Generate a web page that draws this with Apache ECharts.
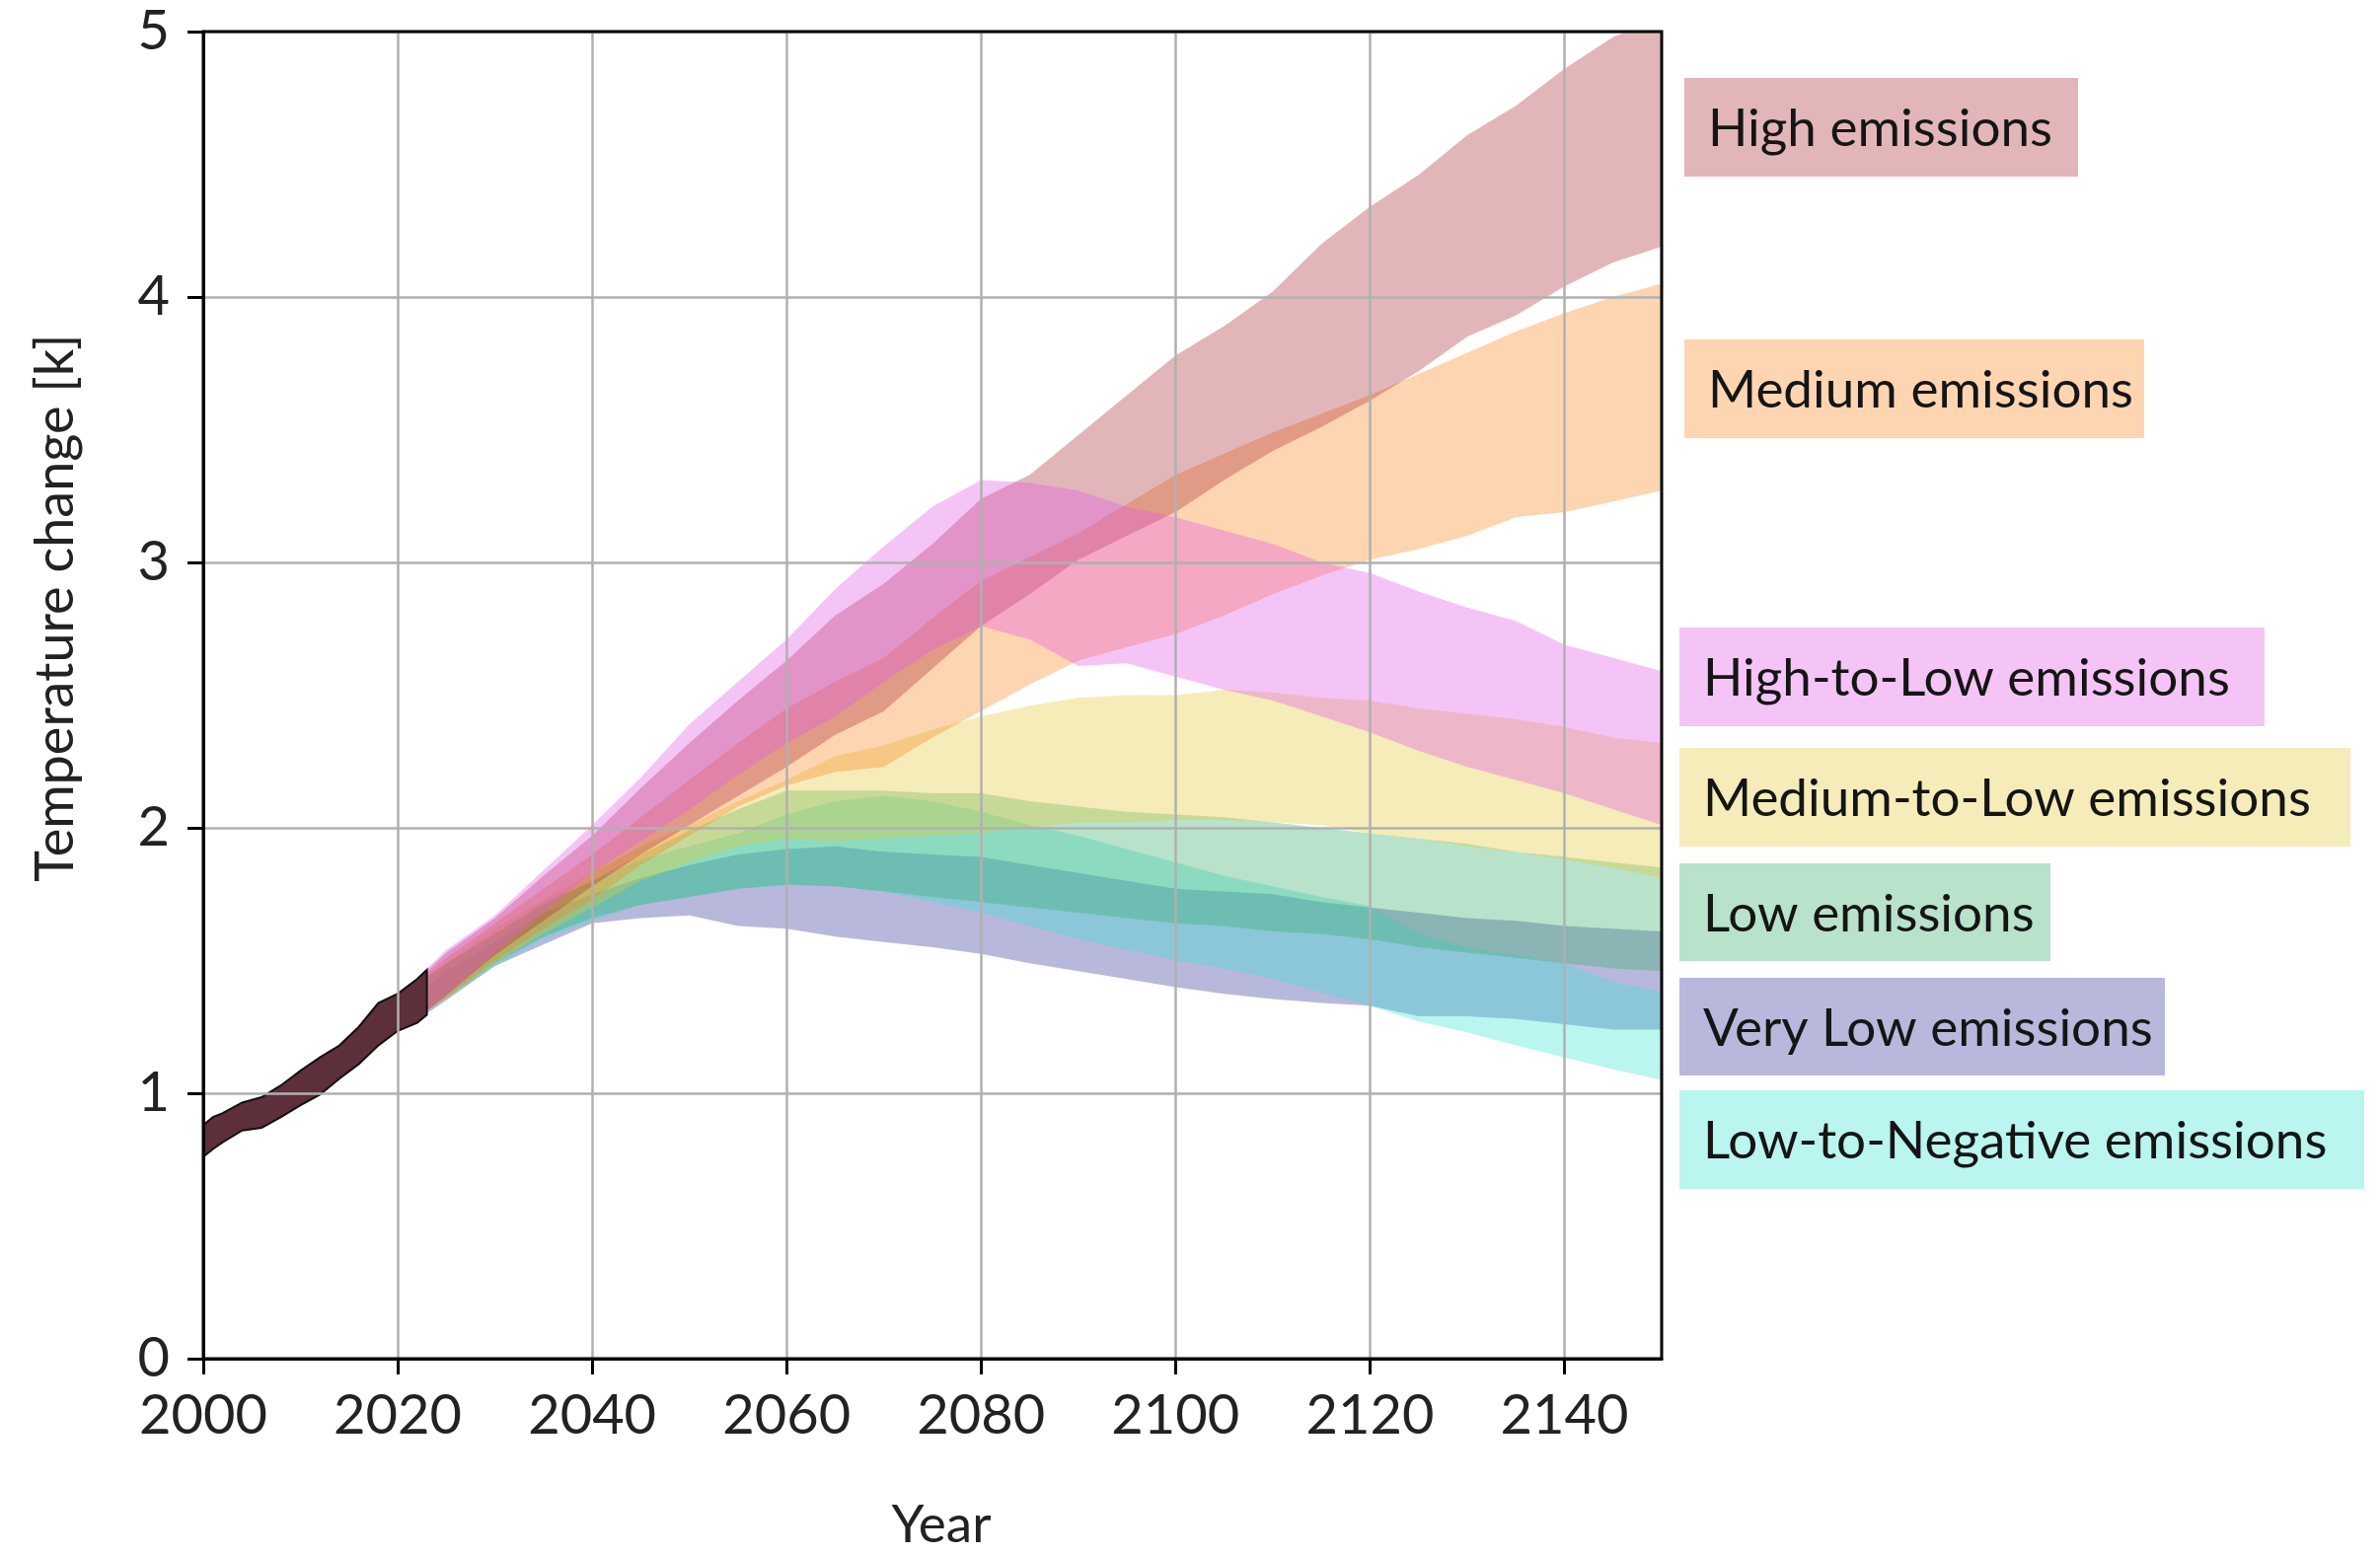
<!DOCTYPE html>
<html><head><meta charset="utf-8">
<script src="https://cdn.jsdelivr.net/npm/echarts@6/dist/echarts.min.js"></script>
<style>html,body{margin:0;padding:0;background:#fff}#c{width:2412px;height:1577px}</style>
</head><body><div id="c"></div>
<script>
// ---------- data ----------
const histYears = [2000, 2001, 2002, 2004, 2006, 2008, 2010, 2012, 2014, 2016, 2018, 2020, 2022, 2023];
const histUpper = [0.88, 0.91, 0.925, 0.965, 0.985, 1.03, 1.085, 1.135, 1.18, 1.25, 1.34, 1.375, 1.43, 1.465];
const histLower = [0.76, 0.79, 0.815, 0.86, 0.87, 0.91, 0.955, 0.995, 1.055, 1.11, 1.18, 1.235, 1.265, 1.295];

const years = [2023, 2025, 2030, 2035, 2040, 2045, 2050, 2055, 2060, 2065, 2070, 2075, 2080, 2085, 2090, 2095, 2100, 2105, 2110, 2115, 2120, 2125, 2130, 2135, 2140, 2145, 2150];

const highUpper = [1.46, 1.53, 1.66, 1.82, 1.97, 2.15, 2.32, 2.48, 2.63, 2.80, 2.92, 3.07, 3.24, 3.33, 3.48, 3.63, 3.78, 3.89, 4.02, 4.20, 4.34, 4.46, 4.61, 4.72, 4.86, 4.98, 5.05];
const highLower = [1.31, 1.37, 1.52, 1.65, 1.78, 1.90, 2.01, 2.12, 2.23, 2.35, 2.44, 2.60, 2.76, 2.88, 3.01, 3.10, 3.19, 3.31, 3.42, 3.51, 3.61, 3.72, 3.85, 3.93, 4.04, 4.13, 4.19];

const medUpper = [1.45, 1.51, 1.64, 1.77, 1.90, 2.04, 2.18, 2.32, 2.45, 2.55, 2.64, 2.79, 2.93, 3.02, 3.11, 3.22, 3.33, 3.41, 3.49, 3.56, 3.63, 3.71, 3.79, 3.87, 3.94, 4.00, 4.05];
const medLower = [1.31, 1.36, 1.50, 1.62, 1.73, 1.86, 1.97, 2.08, 2.16, 2.21, 2.23, 2.34, 2.44, 2.54, 2.63, 2.68, 2.73, 2.80, 2.88, 2.95, 3.01, 3.05, 3.10, 3.17, 3.19, 3.23, 3.27];

const h2lUpper = [1.47, 1.54, 1.67, 1.84, 2.01, 2.19, 2.39, 2.55, 2.71, 2.90, 3.06, 3.21, 3.31, 3.30, 3.27, 3.21, 3.17, 3.12, 3.07, 3.00, 2.96, 2.89, 2.83, 2.78, 2.69, 2.64, 2.59];
const h2lLower = [1.31, 1.37, 1.53, 1.68, 1.83, 1.95, 2.07, 2.20, 2.32, 2.42, 2.55, 2.67, 2.76, 2.71, 2.61, 2.62, 2.57, 2.52, 2.48, 2.42, 2.36, 2.29, 2.23, 2.18, 2.13, 2.07, 2.01];

const m2lUpper = [1.44, 1.49, 1.62, 1.73, 1.83, 1.93, 2.01, 2.10, 2.18, 2.27, 2.31, 2.37, 2.42, 2.46, 2.49, 2.50, 2.50, 2.52, 2.51, 2.49, 2.48, 2.45, 2.43, 2.41, 2.38, 2.34, 2.32];
const m2lLower = [1.31, 1.36, 1.49, 1.60, 1.70, 1.80, 1.87, 1.93, 1.96, 1.95, 1.96, 1.97, 1.98, 2.00, 2.02, 2.02, 2.03, 2.03, 2.02, 2.01, 1.98, 1.96, 1.93, 1.91, 1.88, 1.85, 1.81];

const lowUpper = [1.44, 1.49, 1.60, 1.71, 1.80, 1.90, 1.99, 2.07, 2.14, 2.14, 2.14, 2.13, 2.13, 2.10, 2.08, 2.06, 2.05, 2.04, 2.02, 2.00, 1.98, 1.96, 1.94, 1.91, 1.89, 1.87, 1.85];
const lowLower = [1.31, 1.36, 1.49, 1.59, 1.66, 1.71, 1.74, 1.77, 1.785, 1.78, 1.76, 1.74, 1.72, 1.70, 1.68, 1.66, 1.64, 1.63, 1.61, 1.60, 1.58, 1.55, 1.53, 1.51, 1.49, 1.47, 1.46];

const vlUpper = [1.40, 1.46, 1.57, 1.68, 1.75, 1.81, 1.86, 1.90, 1.92, 1.93, 1.91, 1.90, 1.89, 1.86, 1.83, 1.80, 1.77, 1.76, 1.75, 1.72, 1.70, 1.68, 1.66, 1.65, 1.63, 1.62, 1.61];
const vlLower = [1.30, 1.35, 1.48, 1.56, 1.64, 1.66, 1.67, 1.63, 1.62, 1.59, 1.57, 1.55, 1.525, 1.49, 1.46, 1.43, 1.40, 1.375, 1.355, 1.34, 1.33, 1.29, 1.29, 1.28, 1.26, 1.24, 1.24];

const l2nUpper = [1.43, 1.49, 1.60, 1.72, 1.80, 1.88, 1.93, 1.98, 2.05, 2.10, 2.12, 2.10, 2.06, 2.01, 1.97, 1.92, 1.87, 1.82, 1.78, 1.74, 1.705, 1.60, 1.55, 1.52, 1.49, 1.42, 1.38];
const l2nLower = [1.31, 1.36, 1.48, 1.58, 1.65, 1.71, 1.74, 1.77, 1.785, 1.78, 1.76, 1.72, 1.68, 1.63, 1.58, 1.54, 1.50, 1.47, 1.43, 1.38, 1.33, 1.27, 1.23, 1.18, 1.135, 1.09, 1.05];

const xTickValues = [2000, 2020, 2040, 2060, 2080, 2100, 2120, 2140];
const xLabelMax = 2140; // last labelled year
const legendNames = ['High emissions', 'Medium emissions', 'High-to-Low emissions', 'Medium-to-Low emissions', 'Low emissions', 'Very Low emissions', 'Low-to-Negative emissions'];

// ---------- styling ----------
const FONT = 'Lato';
const ALPHA = 0.35;
const C = {
  high: [172, 46, 55], med: [249, 135, 32], h2l: [226, 86, 232], m2l: [226, 201, 55],
  low: [55, 172, 106], vl: [52, 52, 155], l2n: [58, 226, 212]
};
const rgba = (c, a) => `rgba(${c[0]},${c[1]},${c[2]},${a})`;

// draw order (bottom -> top)
const bands = [
  { name: legendNames[5], lo: vlLower, hi: vlUpper, c: C.vl },
  { name: legendNames[6], lo: l2nLower, hi: l2nUpper, c: C.l2n },
  { name: legendNames[4], lo: lowLower, hi: lowUpper, c: C.low },
  { name: legendNames[3], lo: m2lLower, hi: m2lUpper, c: C.m2l },
  { name: legendNames[1], lo: medLower, hi: medUpper, c: C.med },
  { name: legendNames[0], lo: highLower, hi: highUpper, c: C.high },
  { name: legendNames[2], lo: h2lLower, hi: h2lUpper, c: C.h2l }
];

function bandSeries(name, xs, lo, hi, fill, stroke, lineWidth) {
  return {
    type: 'custom', name, coordinateSystem: 'cartesian2d', clip: true, z: 2,
    data: xs.map((x, i) => [x, lo[i], hi[i]]),
    encode: { x: 0, y: [1, 2] },
    silent: true,
    renderItem(params, api) {
      if (params.dataIndex !== 0) return null;
      const pts = [];
      for (let i = 0; i < xs.length; i++) pts.push(api.coord([xs[i], hi[i]]));
      for (let i = xs.length - 1; i >= 0; i--) pts.push(api.coord([xs[i], lo[i]]));
      return { type: 'polygon', shape: { points: pts }, style: { fill, stroke: stroke || null, lineWidth: lineWidth || 0 } };
    }
  };
}

const series = bands.map(b => bandSeries(b.name, years, b.lo, b.hi, rgba(b.c, ALPHA)));
series.push(bandSeries('Observed', histYears, histLower, histUpper, '#5c2f3a', '#111', 2));

// legend boxes (layout)
const legendBoxes = [
  { c: C.high, x: 1707, y: 79, w: 399, h: 100 },
  { c: C.med, x: 1707, y: 344, w: 466, h: 100 },
  { c: C.h2l, x: 1702, y: 636, w: 593, h: 100 },
  { c: C.m2l, x: 1702, y: 758, w: 680, h: 100 },
  { c: C.low, x: 1702, y: 875, w: 376, h: 99 },
  { c: C.vl, x: 1702, y: 991, w: 492, h: 99 },
  { c: C.l2n, x: 1702, y: 1105, w: 694, h: 100 }
];
const graphic = [];
legendBoxes.forEach((l, i) => {
  graphic.push({ type: 'rect', x: l.x, y: l.y, shape: { x: 0, y: 0, width: l.w, height: l.h }, style: { fill: rgba(l.c, ALPHA) } });
  graphic.push({ type: 'text', x: l.x + 24, y: l.y + l.h / 2 + 2, style: { text: legendNames[i], font: `53px ${FONT}`, fill: '#151515', textAlign: 'left', textVerticalAlign: 'middle', verticalAlign: 'middle' } });
});
graphic.push({ type: 'text', x: 57, y: 616, rotation: Math.PI / 2, style: { text: 'Temperature change [k]', font: `54px ${FONT}`, fill: '#222', textAlign: 'center', textVerticalAlign: 'middle', verticalAlign: 'middle', align: 'center' } });
graphic.push({ type: 'text', x: 954, y: 1546, style: { text: 'Year', font: `53px ${FONT}`, fill: '#222', textAlign: 'center', textVerticalAlign: 'middle', verticalAlign: 'middle', align: 'center' } });

const axisCommon = {
  z: 6,
  axisLine: { show: true, onZero: false, lineStyle: { color: '#000', width: 3 } },
  splitLine: { show: true, lineStyle: { color: '#b0b0b0', width: 2.5 } }
};

const option = {
  animation: false,
  backgroundColor: '#fff',
  grid: { left: 206, top: 32, width: 1478, height: 1345, show: true, borderColor: '#000', borderWidth: 3, z: 7 },
  xAxis: Object.assign({}, axisCommon, {
    type: 'value', min: 2000, max: 2150, interval: 20,
    axisTick: { show: true, length: 16, customValues: xTickValues, lineStyle: { color: '#000', width: 3 } },
    axisLabel: { hideOverlap: false, fontSize: 56, fontFamily: FONT, color: '#222', margin: 30, formatter: v => (v > xLabelMax ? '' : String(v)) }
  }),
  yAxis: Object.assign({}, axisCommon, {
    type: 'value', min: 0, max: 5, interval: 1,
    axisTick: { show: true, length: 16, lineStyle: { color: '#000', width: 3 } },
    axisLabel: { fontSize: 56, fontFamily: FONT, color: '#222', margin: 34, formatter: v => String(v) }
  }),
  graphic,
  series
};

const chart = echarts.init(document.getElementById('c'), null, { renderer: 'canvas' });
chart.setOption(option);
</script>
</body></html>
